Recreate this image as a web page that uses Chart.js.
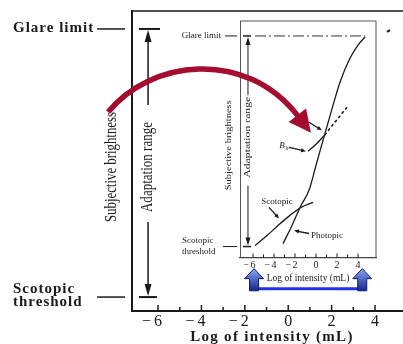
<!DOCTYPE html>
<html>
<head>
<meta charset="utf-8">
<script src="https://cdn.jsdelivr.net/npm/chart.js@4"></script>
<style>
  html, body { margin: 0; padding: 0; background: #fff; }
  #wrap { position: relative; width: 403px; height: 344px; overflow: hidden; }
  #outer { position: absolute; left: 0; top: 0; z-index: 2; }
  #inset { position: absolute; left: 176px; top: 14px; z-index: 1; }
</style>
</head>
<body>
<div id="wrap">
  <canvas id="inset" width="212" height="284"></canvas>
  <canvas id="outer" width="403" height="344"></canvas>
</div>
<script>
// x axis: log of intensity (mL), same ticks on big and small plot
var majorTicks = [-6, -4, -2, 0, 2, 4];
var minorTicks = [-5, -3, -1, 1, 3];

// y: subjective brightness, 0 = scotopic threshold, 10 = glare limit
var glareLevel = 10;
var thresholdLevel = 0;

// inset curves
var photopicX = [-3.14, -2.29, -1.43, -0.67, 0, 0.67, 1.43, 2.29, 3.24, 4.0, 4.67];
var photopicY = [0.14, 1.0, 1.95, 2.67, 3.86, 5.05, 6.38, 7.81, 8.95, 9.57, 9.95];
var scotopicX = [-5.81, -4.67, -3.62, -2.48, -1.43, -0.29];
var scotopicY = [0.05, 0.52, 1.0, 1.48, 1.86, 2.10];
var adaptX = [-0.76, 0, 0.81];
var adaptY = [4.52, 4.86, 5.29];
var adaptDashX = [0.81, 2.95];
var adaptDashY = [5.29, 6.62];
var glareLineX = [-5.81, 4.7];
var glareLineY = [10, 10];

// where the blue arrows point on the inset axis
var blueArrowX = [-5.9, 4.4];

var ink = '#1a1a1a';
var serif = '"Liberation Serif", "DejaVu Serif", serif';

function pts(xs, ys) {
  return xs.map(function (x, i) { return { x: x, y: ys[i] }; });
}

function line(ctx, x1, y1, x2, y2, w, color, dash) {
  ctx.save();
  ctx.beginPath();
  ctx.setLineDash(dash || []);
  ctx.moveTo(x1, y1);
  ctx.lineTo(x2, y2);
  ctx.lineWidth = w;
  ctx.strokeStyle = color;
  ctx.stroke();
  ctx.restore();
}

function head(ctx, tx, ty, fx, fy, len, half, color) {
  var ang = Math.atan2(ty - fy, tx - fx);
  ctx.save();
  ctx.translate(tx, ty);
  ctx.rotate(ang);
  ctx.beginPath();
  ctx.moveTo(0, 0);
  ctx.lineTo(-len, half);
  ctx.lineTo(-len, -half);
  ctx.closePath();
  ctx.fillStyle = color;
  ctx.fill();
  ctx.restore();
}

function arrow(ctx, fx, fy, tx, ty, w, len, half, color) {
  var d = Math.hypot(tx - fx, ty - fy);
  var ex = tx - (tx - fx) / d * (len - 1), ey = ty - (ty - fy) / d * (len - 1);
  line(ctx, fx, fy, ex, ey, w, color);
  head(ctx, tx, ty, fx, fy, len, half, color);
}

// rotated text fitted to a given length
function vText(ctx, text, x, y, len, size) {
  ctx.save();
  ctx.translate(x, y);
  ctx.rotate(-Math.PI / 2);
  ctx.font = size + 'px ' + serif;
  var w = ctx.measureText(text).width;
  ctx.scale(len / w, 1);
  ctx.textAlign = 'center';
  ctx.textBaseline = 'middle';
  ctx.fillStyle = ink;
  ctx.fillText(text, 0, 0);
  ctx.restore();
}

function text(ctx, s, x, y, font, align, spacing) {
  ctx.save();
  ctx.font = font;
  ctx.textAlign = align || 'left';
  ctx.textBaseline = 'middle';
  ctx.fillStyle = ink;
  ctx.letterSpacing = spacing || '0px';
  ctx.fillText(s, x, y);
  ctx.restore();
}

// digit centred on the tick, minus sign hanging to the left
function tickLabels(ctx, X, y, size, gap) {
  ctx.save();
  ctx.font = size + 'px ' + serif;
  ctx.textBaseline = 'middle';
  ctx.fillStyle = ink;
  ctx.letterSpacing = '0px';
  majorTicks.forEach(function (v) {
    var s = String(Math.abs(v));
    var dw = ctx.measureText(s).width;
    ctx.textAlign = 'center';
    ctx.fillText(s, X(v), y);
    if (v < 0) {
      ctx.textAlign = 'right';
      ctx.fillText('\u2212', X(v) - dw / 2 - gap, y);
    }
  });
  ctx.restore();
}

var outerDecor = {
  id: 'outerDecor',
  beforeDraw: function (chart) {
    // wider letter spacing for the axis title, as in the scanned figure
    chart.ctx.letterSpacing = '1.3px';
  },
  afterDraw: function (chart) {
    var ctx = chart.ctx, a = chart.chartArea;
    ctx.letterSpacing = '0px';
    var X = function (v) { return chart.scales.x.getPixelForValue(v); };
    var Y = function (v) { return chart.scales.y.getPixelForValue(v); };

    line(ctx, a.left, a.top, a.right, a.top, 1.5, ink);
    majorTicks.forEach(function (v) { line(ctx, X(v), a.bottom, X(v), a.bottom - 6, 1.5, ink); });
    minorTicks.forEach(function (v) { line(ctx, X(v), a.bottom, X(v), a.bottom - 4, 1.5, ink); });
    tickLabels(ctx, X, a.bottom + 11, 16, 3);

    // glare limit / scotopic threshold
    var bold = 'bold 15px ' + serif;
    text(ctx, 'Glare limit', 13, Y(glareLevel) - 1, bold, 'left', '1px');
    text(ctx, 'Scotopic', 13, Y(thresholdLevel) - 8, bold, 'left', '1px');
    text(ctx, 'threshold', 13, Y(thresholdLevel) + 5, bold, 'left', '1px');
    line(ctx, X(-8.81), Y(glareLevel), X(-7.52), Y(glareLevel), 1.5, ink);
    line(ctx, X(-8.81), Y(thresholdLevel), X(-7.52), Y(thresholdLevel), 1.5, ink);

    // adaptation range bars and arrows
    line(ctx, X(-6.88), Y(glareLevel), X(-5.91), Y(glareLevel), 2, ink);
    line(ctx, X(-6.88), Y(thresholdLevel), X(-6.05), Y(thresholdLevel), 2, ink);
    arrow(ctx, X(-6.46), Y(7.16), X(-6.46), Y(glareLevel) + 1, 1.5, 12, 3.5, ink);
    arrow(ctx, X(-6.46), Y(2.8), X(-6.46), Y(thresholdLevel) - 1, 1.5, 12, 3.5, ink);
    vText(ctx, 'Adaptation range', X(-6.46), Y(4.85), 90, 16);
    vText(ctx, 'Subjective brightness', X(-8.12), Y(4.85), 110, 16);

    // small stray mark at the top right of the scan
    line(ctx, X(4.55), Y(9.89), X(4.69), Y(9.96), 2, ink);

    // red arrow pointing into the inset
    var p0 = [X(-8.30), Y(6.90)], p1 = [X(-6.37), Y(8.84)], p2 = [X(-1.99), Y(9.30)], p3 = [X(0.45), Y(6.75)];
    ctx.save();
    ctx.beginPath();
    ctx.moveTo(p0[0], p0[1]);
    ctx.bezierCurveTo(p1[0], p1[1], p2[0], p2[1], p3[0], p3[1]);
    ctx.lineWidth = 5.5;
    ctx.strokeStyle = '#a50b2e';
    ctx.stroke();
    ctx.restore();
    var dx = p3[0] - p2[0], dy = p3[1] - p2[1], d = Math.hypot(dx, dy);
    head(ctx, p3[0] + dx / d * 21, p3[1] + dy / d * 21, p3[0], p3[1], 22, 11, '#a50b2e');
  }
};

var insetDecor = {
  id: 'insetDecor',
  afterDraw: function (chart) {
    var ctx = chart.ctx, a = chart.chartArea;
    var X = function (v) { return chart.scales.x.getPixelForValue(v); };
    var Y = function (v) { return chart.scales.y.getPixelForValue(v); };
    var small = '9px ' + serif;

    line(ctx, a.left, a.top, a.right, a.top, 1, '#555');
    line(ctx, a.right, a.top, a.right, a.bottom, 1, '#555');
    majorTicks.forEach(function (v) { line(ctx, X(v), a.bottom, X(v), a.bottom - 4, 1, ink); });
    minorTicks.forEach(function (v) { line(ctx, X(v), a.bottom, X(v), a.bottom - 3, 1, ink); });
    tickLabels(ctx, X, a.bottom + 8, 10, 1.5);

    text(ctx, 'Glare limit', X(-9.05), Y(glareLevel), small, 'right');
    line(ctx, X(-8.67), Y(glareLevel), X(-7.52), Y(glareLevel), 1, ink);
    text(ctx, 'Scotopic', X(-12.76), Y(thresholdLevel) - 6, small, 'left');
    text(ctx, 'threshold', X(-12.76), Y(thresholdLevel) + 5, small, 'left');
    line(ctx, X(-8.86), Y(thresholdLevel), X(-7.52), Y(thresholdLevel), 1, ink);

    line(ctx, X(-6.95), Y(glareLevel), X(-6.19), Y(glareLevel), 1.5, ink);
    line(ctx, X(-6.95), Y(thresholdLevel), X(-6.19), Y(thresholdLevel), 1.5, ink);
    arrow(ctx, X(-6.48), Y(7.19), X(-6.48), Y(glareLevel) + 1, 1, 8, 2.5, ink);
    arrow(ctx, X(-6.48), Y(2.9), X(-6.48), Y(thresholdLevel) - 1, 1, 8, 2.5, ink);
    vText(ctx, 'Adaptation range', X(-6.48), Y(5.19), 81, 9);
    vText(ctx, 'Subjective brightness', X(-8.29), Y(4.81), 90, 9);

    // curve labels
    var it = 'italic 9px ' + serif;
    text(ctx, 'B', X(-1.33), Y(6.14), it, 'center');
    text(ctx, 'a', X(-1.33) + 5, Y(6.14) + 3, 'italic 6px ' + serif, 'center');
    arrow(ctx, X(-0.67), Y(5.9), X(0.57), Y(5.52), 1.3, 5, 2, ink);
    text(ctx, 'B', X(-3.24), Y(4.81), it, 'center');
    text(ctx, 'b', X(-3.24) + 5, Y(4.81) + 3, 'italic 6px ' + serif, 'center');
    arrow(ctx, X(-2.57), Y(4.71), X(-0.95), Y(4.52), 1.3, 5, 2, ink);
    text(ctx, 'Scotopic', X(-3.71), Y(2.14), small, 'center');
    arrow(ctx, X(-4.48), Y(1.86), X(-3.52), Y(1.33), 1.3, 5, 2, ink);
    text(ctx, 'Photopic', X(-0.48), Y(0.52), small, 'left');
    arrow(ctx, X(-0.67), Y(0.62), X(-2.1), Y(0.76), 1.3, 5, 2, ink);

    // blue arrows under the inset axis
    var tipY = Y(-1.05), baseY = Y(-2.1);
    line(ctx, X(blueArrowX[0]), Y(-2.0), X(blueArrowX[1]), Y(-2.0), 3, '#1f33e6');
    blueArrowX.forEach(function (v) {
      var cx = X(v);
      var g = ctx.createLinearGradient(0, tipY, 0, baseY);
      g.addColorStop(0, '#86a6f2');
      g.addColorStop(1, '#15258f');
      ctx.save();
      ctx.beginPath();
      ctx.moveTo(cx, tipY);
      ctx.lineTo(cx + 9.5, tipY + 10);
      ctx.lineTo(cx + 4.5, tipY + 10);
      ctx.lineTo(cx + 4.5, baseY);
      ctx.lineTo(cx - 4.5, baseY);
      ctx.lineTo(cx - 4.5, tipY + 10);
      ctx.lineTo(cx - 9.5, tipY + 10);
      ctx.closePath();
      ctx.fillStyle = g;
      ctx.fill();
      ctx.lineWidth = 1;
      ctx.strokeStyle = '#0d1a6e';
      ctx.stroke();
      ctx.restore();
    });
  }
};

var common = {
  responsive: false,
  animation: false,
  events: [],
  plugins: { legend: { display: false }, tooltip: { enabled: false } }
};

new Chart(document.getElementById('outer'), {
  type: 'scatter',
  data: { datasets: [] },
  options: Object.assign({}, common, {
    layout: { padding: { left: 132, top: 11, right: 0, bottom: 0 } },
    scales: {
      x: {
        type: 'linear', min: -7.2, max: 5.29,
        grid: { display: false, drawTicks: false },
        border: { display: true, color: ink, width: 2 },
        ticks: { display: false },
        title: {
          display: true, text: '\u2002Log of intensity (mL)', color: ink,
          font: { family: serif, size: 15, weight: 'bold', lineHeight: 1 },
          padding: { top: 19, bottom: -1 }
        }
      },
      y: {
        type: 'linear', min: -0.52, max: 10.67,
        grid: { display: false, drawTicks: false },
        border: { display: true, color: ink, width: 2 },
        ticks: { display: false }
      }
    }
  }),
  plugins: [outerDecor]
});

var curve = { showLine: true, pointRadius: 0, borderColor: ink, borderWidth: 1.3, cubicInterpolationMode: 'monotone' };

new Chart(document.getElementById('inset'), {
  type: 'scatter',
  data: {
    datasets: [
      Object.assign({}, curve, { data: pts(glareLineX, glareLineY), borderWidth: 1, borderDash: [11, 3, 2, 3], borderColor: '#333' }),
      Object.assign({}, curve, { data: pts(photopicX, photopicY) }),
      Object.assign({}, curve, { data: pts(scotopicX, scotopicY) }),
      Object.assign({}, curve, { data: pts(adaptX, adaptY) }),
      Object.assign({}, curve, { data: pts(adaptDashX, adaptDashY), borderDash: [3, 2.5], borderWidth: 1.6 })
    ]
  },
  options: Object.assign({}, common, {
    layout: { padding: { left: 64, top: 7, right: 12, bottom: 15 } },
    scales: {
      x: {
        type: 'linear', min: -7.24, max: 5.71,
        grid: { display: false, drawTicks: false },
        border: { display: true, color: '#444', width: 1.2 },
        ticks: { display: false },
        title: {
          display: true, text: 'Log of intensity (mL)', color: ink,
          font: { family: serif, size: 9.5, lineHeight: 1 },
          padding: { top: 16, bottom: 0 }
        }
      },
      y: {
        type: 'linear', min: -0.52, max: 10.71,
        grid: { display: false, drawTicks: false },
        border: { display: true, color: '#555', width: 1 },
        ticks: { display: false }
      }
    }
  }),
  plugins: [insetDecor]
});
</script>
</body>
</html>
